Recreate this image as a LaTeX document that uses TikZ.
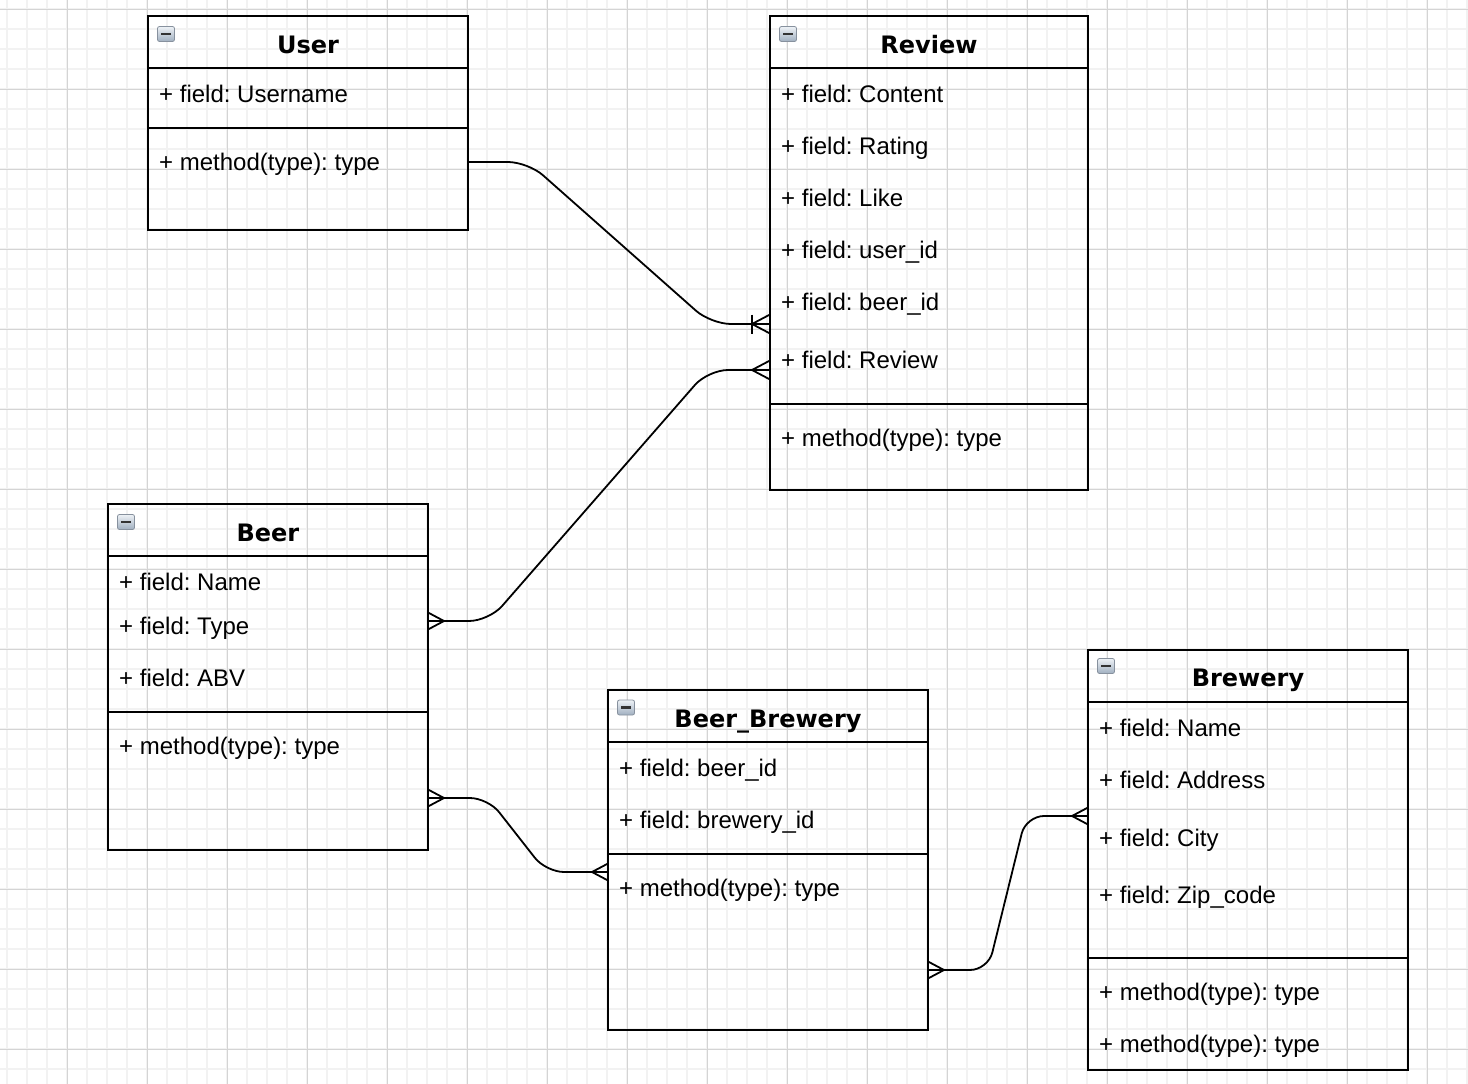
\documentclass[tikz,border=0pt]{standalone}
\usepackage{fontspec}
\setmainfont{Liberation Sans}
\newfontfamily\titlefont{DejaVu Sans}
\frenchspacing
\definecolor{gridminor}{RGB}{242,242,242}
\definecolor{gridmajor}{RGB}{212,212,212}
\definecolor{icontop}{RGB}{238,242,246}
\definecolor{iconbot}{RGB}{160,175,192}
\definecolor{iconedge}{RGB}{135,145,158}
\tikzset{
  box/.style={draw=black, line width=2pt, anchor=north west, inner sep=0pt, outer sep=0pt},
  div/.style={line width=2pt},
  titletext/.style={font=\titlefont\bfseries\fontsize{24}{28}\selectfont, anchor=base, inner sep=0pt},
  rowtext/.style={font=\frenchspacing\fontsize{24}{28}\selectfont, anchor=base west, inner sep=0pt},
  conn/.style={line width=1.8pt},
  icon/.style={draw=iconedge, line width=0.8pt, rounded corners=2pt, top color=icontop, bottom color=iconbot, minimum width=17pt, minimum height=15pt, inner sep=0pt},
  iconbar/.style={line width=2.6pt, black!80},
  crowL/.pic={\draw[conn] (0,-8.5) -- (-16,0) -- (0,8.5);},
  crowLbig/.pic={\draw[conn] (0,-9.5) -- (-18,0) -- (0,9.5);},
  crowR/.pic={\draw[conn] (0,-8.5) -- (16,0) -- (0,8.5);},
  onebar/.pic={\draw[conn] (-18,-9.5) -- (-18,9.5);}
}
\begin{document}
\begin{tikzpicture}[x=1pt,y=-1pt]
\useasboundingbox (0,0) rectangle (1468,1084);
% grid
\foreach \i in {0,...,73} {\draw[gridminor, line width=1.6pt] (7+20*\i,0) -- (7+20*\i,1084);}
\foreach \j in {0,...,53} {\draw[gridminor, line width=1.6pt] (0,9+20*\j) -- (1468,9+20*\j);}
\foreach \i in {0,...,17} {\draw[gridmajor, line width=1pt] (67+80*\i,0) -- (67+80*\i,1084);}
\foreach \j in {0,...,13} {\draw[gridmajor, line width=1pt] (0,9+80*\j) -- (1468,9+80*\j);}

% ---------- User ----------
\node[box, minimum width=320pt, minimum height=214pt] (user) at (148,16) {};
\draw[div] (148,68) -- (468,68);
\draw[div] (148,128) -- (468,128);
\node[icon] (userIcon) at (166,34) {};
\draw[iconbar] ([xshift=-5pt]userIcon.center) -- ([xshift=5pt]userIcon.center);
\node[titletext] (userT) at (308,53) {User};
\node[rowtext] (userF1) at (159,102) {+ field: Username};
\node[rowtext] (userM1) at (159,170) {+ method(type): type};

% ---------- Review ----------
\node[box, minimum width=318pt, minimum height=474pt] (review) at (770,16) {};
\draw[div] (770,68) -- (1088,68);
\draw[div] (770,404) -- (1088,404);
\node[icon] (reviewIcon) at (788,34) {};
\draw[iconbar] ([xshift=-5pt]reviewIcon.center) -- ([xshift=5pt]reviewIcon.center);
\node[titletext] (reviewT) at (929,53) {Review};
\node[rowtext] (reviewF1) at (781,102) {+ field: Content};
\node[rowtext] (reviewF2) at (781,154) {+ field: Rating};
\node[rowtext] (reviewF3) at (781,206) {+ field: Like};
\node[rowtext] (reviewF4) at (781,258) {+ field: user\_id};
\node[rowtext] (reviewF5) at (781,310) {+ field: beer\_id};
\node[rowtext] (reviewF6) at (781,368) {+ field: Review};
\node[rowtext] (reviewM1) at (781,446) {+ method(type): type};

% ---------- Beer ----------
\node[box, minimum width=320pt, minimum height=346pt] (beer) at (108,504) {};
\draw[div] (108,556) -- (428,556);
\draw[div] (108,712) -- (428,712);
\node[icon] (beerIcon) at (126,522) {};
\draw[iconbar] ([xshift=-5pt]beerIcon.center) -- ([xshift=5pt]beerIcon.center);
\node[titletext] (beerT) at (268,541) {Beer};
\node[rowtext] (beerF1) at (119,590) {+ field: Name};
\node[rowtext] (beerF2) at (119,634) {+ field: Type};
\node[rowtext] (beerF3) at (119,686) {+ field: ABV};
\node[rowtext] (beerM1) at (119,754) {+ method(type): type};

% ---------- Beer_Brewery ----------
\node[box, minimum width=320pt, minimum height=340pt] (bb) at (608,690) {};
\draw[div] (608,742) -- (928,742);
\draw[div] (608,854) -- (928,854);
\node[icon] (bbIcon) at (626,707.5) {};
\draw[iconbar] ([xshift=-5pt]bbIcon.center) -- ([xshift=5pt]bbIcon.center);
\node[titletext] (bbT) at (768,727) {Beer\_Brewery};
\node[rowtext] (bbF1) at (619,776) {+ field: beer\_id};
\node[rowtext] (bbF2) at (619,828) {+ field: brewery\_id};
\node[rowtext] (bbM1) at (619,896) {+ method(type): type};

% ---------- Brewery ----------
\node[box, minimum width=320pt, minimum height=420pt] (brewery) at (1088,650) {};
\draw[div] (1088,702) -- (1408,702);
\draw[div] (1088,958) -- (1408,958);
\node[icon] (breweryIcon) at (1106,666) {};
\draw[iconbar] ([xshift=-5pt]breweryIcon.center) -- ([xshift=5pt]breweryIcon.center);
\node[titletext] (breweryT) at (1248,686) {Brewery};
\node[rowtext] (breweryF1) at (1099,736) {+ field: Name};
\node[rowtext] (breweryF2) at (1099,788) {+ field: Address};
\node[rowtext] (breweryF3) at (1099,846) {+ field: City};
\node[rowtext] (breweryF4) at (1099,903) {+ field: Zip\_code};
\node[rowtext] (breweryM1) at (1099,1000) {+ method(type): type};
\node[rowtext] (breweryM2) at (1099,1052) {+ method(type): type};

% ---------- connector end points ----------
\coordinate (cUser) at (468,162);
\coordinate (cRevA) at (770,324);
\coordinate (cRevB) at (770,370);
\coordinate (cBeerA) at (428,621);
\coordinate (cBeerB) at (428,798);
\coordinate (cBbL) at (608,872);
\coordinate (cBbR) at (928,970);
\coordinate (cBrew) at (1088,816);

% ---------- connectors ----------
\draw[conn, rounded corners=20pt] (cUser) -- (528,162) -- (711,324) -- (cRevA);
\pic at (cRevA) {crowLbig};
\pic at (cRevA) {onebar};

\draw[conn, rounded corners=20pt] (cBeerA) -- (489,621) -- (708,370) -- (cRevB);
\pic at (cBeerA) {crowR};
\pic at (cRevB) {crowLbig};

\draw[conn, rounded corners=18pt] (cBeerB) -- (488,798) -- (546,872) -- (cBbL);
\pic at (cBeerB) {crowR};
\pic at (cBbL) {crowL};

\draw[conn, rounded corners=18pt] (cBbR) -- (988,970) -- (1026,816) -- (cBrew);
\pic at (cBbR) {crowR};
\pic at (cBrew) {crowL};
\end{tikzpicture}
\end{document}
